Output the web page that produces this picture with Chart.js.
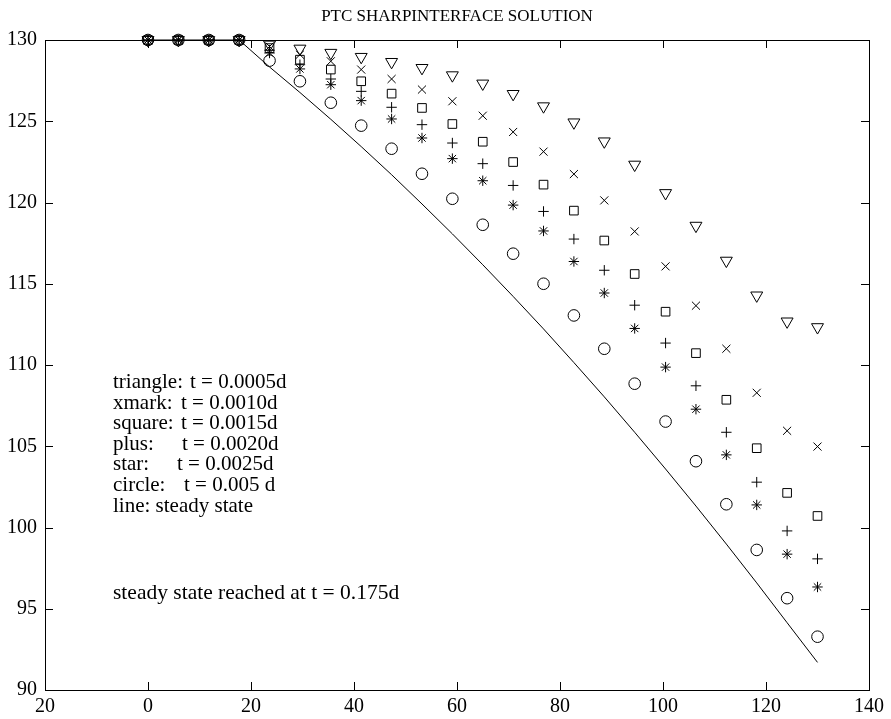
<!DOCTYPE html>
<html>
<head>
<meta charset="utf-8">
<script src="https://cdn.jsdelivr.net/npm/chart.js@4.4.1/dist/chart.umd.min.js"></script>
<style>
  html, body { margin: 0; padding: 0; background: #fff; }
  #wrap { width: 891px; height: 719px; }
</style>
</head>
<body>
<div id="wrap"><canvas id="ptc" width="891" height="719"></canvas></div>
<script>
// positions along the rod
const xPos = [0, 5.9, 11.8, 17.7, 23.6, 29.5, 35.5, 41.4, 47.3, 53.2, 59.1, 65.0,
  70.9, 76.8, 82.7, 88.6, 94.5, 100.5, 106.4, 112.3, 118.2, 124.1, 130.0];

const triangle = [130, 130, 130, 130, 129.72, 129.47, 129.21, 128.96, 128.65, 128.28, 127.83, 127.32,
  126.68, 125.92, 124.93, 123.76, 122.33, 120.58, 118.57, 116.42, 114.28, 112.68, 112.33];
const xmark = [130, 130, 130, 130, 129.6, 129.1, 128.69, 128.18, 127.6, 126.95, 126.23, 125.34,
  124.34, 123.13, 121.75, 120.13, 118.22, 116.07, 113.65, 111.0, 108.29, 105.95, 104.98];
const square = [130, 130, 130, 130, 129.5, 128.79, 128.18, 127.46, 126.7, 125.82, 124.83, 123.74,
  122.49, 121.1, 119.5, 117.66, 115.6, 113.28, 110.73, 107.86, 104.88, 102.13, 100.71];
const plus = [130, 130, 130, 130, 129.37, 128.48, 127.6, 126.84, 125.86, 124.79, 123.66, 122.39,
  121.05, 119.45, 117.75, 115.83, 113.68, 111.35, 108.72, 105.86, 102.79, 99.79, 98.07];
const star = [130, 130, 130, 130, 129.2, 128.22, 127.25, 126.27, 125.14, 123.97, 122.7, 121.34,
  119.84, 118.25, 116.37, 114.43, 112.25, 109.87, 107.28, 104.47, 101.39, 98.36, 96.34];
const circle = [130, 130, 130, 130, 128.73, 127.46, 126.14, 124.73, 123.31, 121.77, 120.23, 118.63,
  116.85, 115.0, 113.05, 111.0, 108.85, 106.52, 104.08, 101.43, 98.62, 95.65, 93.28];
const steady = [130, 130, 130, 130, 128.34, 126.77, 125.12, 123.44, 121.71, 119.91, 118.07, 116.17,
  114.22, 112.22, 110.15, 108.04, 105.86, 103.6, 101.32, 98.98, 96.59, 94.14, 91.7];

const xTickLabels = ['20', '0', '20', '40', '60', '80', '100', '120', '140'];
const yTickLabels = ['90', '95', '100', '105', '110', '115', '120', '125', '130'];

const titleText = 'PTC SHARPINTERFACE SOLUTION';
const noteNames = ['triangle:', 'xmark:', 'square:', 'plus:', 'star:', 'circle:', 'line: steady state'];
const noteTimes = ['t = 0.0005d', 't = 0.0010d', 't = 0.0015d', 't = 0.0020d', 't = 0.0025d', 't = 0.005 d', ''];
const steadyNote = 'steady state reached at t = 0.175d';

const FONT = '"Liberation Serif", "Times New Roman", serif';

const pts = ys => xPos.map((x, i) => ({ x, y: ys[i] }));

function markerSet(label, ys, style, radius, rotation) {
  return {
    label, data: pts(ys), showLine: false, clip: false,
    pointStyle: style, pointRadius: radius, pointHoverRadius: radius,
    pointRotation: rotation || 0, pointBorderWidth: 1,
    pointBorderColor: '#000', pointBackgroundColor: 'rgba(0,0,0,0)'
  };
}

// box round the plot with inward ticks on all four sides
const frame = {
  id: 'frame',
  afterDatasetsDraw(chart) {
    const { ctx, chartArea: a, scales: { x, y } } = chart;
    const len = 8;
    ctx.save();
    ctx.strokeStyle = '#000';
    ctx.lineWidth = 1;
    ctx.strokeRect(a.left + 0.5, a.top + 0.5, a.right - a.left, a.bottom - a.top);
    ctx.beginPath();
    x.ticks.forEach(t => {
      const p = Math.round(x.getPixelForValue(t.value)) + 0.5;
      ctx.moveTo(p, a.bottom); ctx.lineTo(p, a.bottom - len);
      ctx.moveTo(p, a.top); ctx.lineTo(p, a.top + len);
    });
    y.ticks.forEach(t => {
      const p = Math.round(y.getPixelForValue(t.value)) + 0.5;
      ctx.moveTo(a.left, p); ctx.lineTo(a.left + len, p);
      ctx.moveTo(a.right, p); ctx.lineTo(a.right - len, p);
    });
    ctx.stroke();
    ctx.restore();
  }
};

const notes = {
  id: 'notes',
  afterDraw(chart) {
    const { ctx, chartArea: a } = chart;
    ctx.save();
    ctx.fillStyle = '#000';
    ctx.textBaseline = 'alphabetic';
    ctx.font = '17px ' + FONT;
    ctx.textAlign = 'center';
    ctx.fillText(titleText, (a.left + a.right) / 2, 21);
    ctx.textAlign = 'left';
    ctx.font = '21px ' + FONT;
    const timeX = [190, 181, 181, 182, 177, 184];
    noteNames.forEach((n, i) => {
      const base = 388 + i * 20.6;
      ctx.fillText(n, 113, base);
      if (noteTimes[i]) ctx.fillText(noteTimes[i], timeX[i], base);
    });
    ctx.font = '21.5px ' + FONT;
    ctx.fillText(steadyNote, 113, 599);
    ctx.restore();
  }
};

new Chart(document.getElementById('ptc'), {
  type: 'line',
  data: {
    datasets: [
      markerSet('triangle', triangle, 'triangle', 6.9, 180),
      markerSet('xmark', xmark, 'crossRot', 5.7),
      markerSet('square', square, 'rect', 6.1),
      markerSet('plus', plus, 'cross', 5.2),
      markerSet('star', star, 'star', 5.2),
      markerSet('circle', circle, 'circle', 5.8),
      { label: 'steady state', data: pts(steady), borderColor: '#000', borderWidth: 1,
        pointRadius: 0, fill: false, tension: 0, clip: false }
    ]
  },
  options: {
    responsive: false,
    animation: false,
    devicePixelRatio: 1,
    layout: { padding: { top: 40, right: 22, left: 0, bottom: 0 } },
    plugins: { legend: { display: false }, title: { display: false }, tooltip: { enabled: false } },
    scales: {
      x: {
        type: 'linear', min: -20, max: 140,
        afterFit: s => { s.height = 29; },
        grid: { display: false, drawTicks: false },
        border: { display: false },
        ticks: { stepSize: 20, color: '#000', padding: 5, maxRotation: 0,
          font: { family: FONT, size: 20 },
          callback: (v, i) => xTickLabels[i] }
      },
      y: {
        min: 90, max: 130,
        afterFit: s => { s.width = 45; },
        grid: { display: false, drawTicks: false },
        border: { display: false },
        ticks: { stepSize: 5, color: '#000', padding: 8,
          font: { family: FONT, size: 20 },
          callback: (v, i) => yTickLabels[i] }
      }
    }
  },
  plugins: [frame, notes]
});
</script>
</body>
</html>
